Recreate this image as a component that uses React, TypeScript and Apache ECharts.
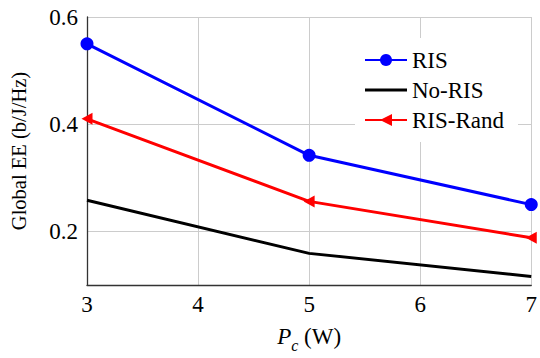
import React, { useEffect, useRef } from "react";
import * as echarts from "echarts";

const pcValues = [3, 5, 7];
const risEE = [0.55, 0.342, 0.25];
const noRisEE = [0.258, 0.159, 0.116];
const risRandEE = [0.41, 0.256, 0.188];
const seriesNames = ["RIS", "No-RIS", "RIS-Rand"];

const FONT = "Liberation Serif";
const W = 540;
const H = 358;

const pairs = (ys: number[]) => pcValues.map((x, i) => [x, ys[i]]);

export default function App() {
  const ref = useRef<HTMLDivElement>(null);

  useEffect(() => {
    document.body.style.margin = "0";
    if (!ref.current) return;
    const chart = echarts.init(ref.current, undefined, { renderer: "svg", width: W, height: H });
    chart.setOption({
      animation: false,
      backgroundColor: "#fff",
      grid: { left: 86, right: 6, top: 17, bottom: 65, containLabel: false },
      xAxis: {
        type: "value",
        min: 3,
        max: 7,
        interval: 1,
        name: "{i|P}{s|c}{n| (W)}",
        nameLocation: "middle",
        nameGap: 40,
        nameTextStyle: {
          fontFamily: FONT,
          rich: {
            i: { fontFamily: FONT, fontStyle: "italic", fontSize: 23, color: "#000", verticalAlign: "bottom", padding: [0, 0, 5, 0] },
            s: { fontFamily: FONT, fontStyle: "italic", fontSize: 16, color: "#000", verticalAlign: "bottom" },
            n: { fontFamily: FONT, fontSize: 23, color: "#000", verticalAlign: "bottom", padding: [0, 0, 5, 0] },
          },
        },
        axisLine: { show: true, lineStyle: { color: "#333", width: 1.3 } },
        axisTick: { show: false },
        axisLabel: { fontFamily: FONT, fontSize: 23, color: "#000", margin: 8 },
        splitLine: { show: true, lineStyle: { color: "#cccccc", width: 1 } },
      },
      yAxis: {
        type: "value",
        min: 0.1,
        max: 0.6,
        interval: 0.1,
        name: "Global EE (b/J/Hz)",
        nameLocation: "middle",
        nameGap: 58,
        nameTextStyle: { fontFamily: FONT, fontSize: 20.5, color: "#000" },
        axisLine: { show: true, lineStyle: { color: "#333", width: 1.3 } },
        axisTick: { show: false },
        axisLabel: {
          fontFamily: FONT,
          fontSize: 23,
          color: "#000",
          margin: 9,
          formatter: (v: number) => {
            const k = Math.round(v * 10);
            return k % 2 === 0 ? (k / 10).toFixed(1) : "";
          },
        },
        splitLine: {
          show: true,
          lineStyle: { color: ["rgba(0,0,0,0)", "#cccccc"], width: 1 },
        },
      },
      legend: {
        orient: "vertical",
        left: 355,
        top: 38,
        backgroundColor: "#fff",
        padding: [10, 14, 10, 9],
        itemWidth: 42,
        itemHeight: 15,
        itemGap: 6,
        textStyle: { fontFamily: FONT, fontSize: 23, lineHeight: 24, color: "#000" },
        data: [
          { name: seriesNames[0] },
          { name: seriesNames[1], icon: "path://M0 0H42V3H0Z" },
          { name: seriesNames[2] },
        ],
      },
      series: [
        {
          name: seriesNames[0],
          type: "line",
          data: pairs(risEE),
          color: "#0000ff",
          lineStyle: { width: 3 },
          symbol: "circle",
          symbolSize: 13,
          z: 3,
        },
        {
          name: seriesNames[1],
          type: "line",
          data: pairs(noRisEE),
          color: "#000000",
          lineStyle: { width: 3 },
          symbol: "none",
          z: 2,
        },
        {
          name: seriesNames[2],
          type: "line",
          data: pairs(risRandEE),
          color: "#ff0000",
          lineStyle: { width: 3 },
          symbol: "triangle",
          symbolRotate: 90,
          symbolSize: [12, 11],
          z: 3,
        },
      ],
    });
    return () => chart.dispose();
  }, []);

  return <div ref={ref} style={{ width: W, height: H }} />;
}
